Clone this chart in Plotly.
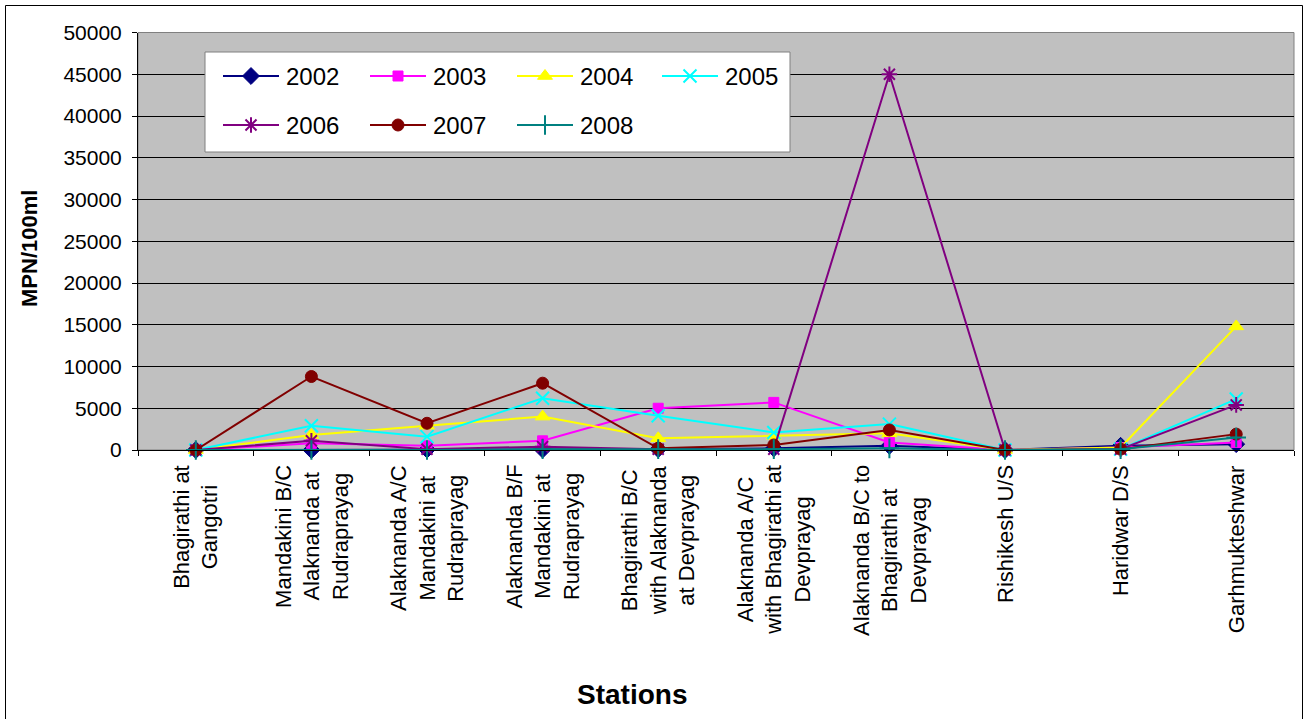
import plotly.graph_objects as go

W, H = 1307, 719
FONT = "Liberation Sans, Arial, sans-serif"

# Sampling stations along the Ganga (upstream to downstream)
stations = [
    "Bhagirathi at Gangotri",
    "Mandakini B/C Alaknanda at Rudraprayag",
    "Alaknanda A/C Mandakini at Rudraprayag",
    "Alaknanda B/F Mandakini at Rudraprayag",
    "Bhagirathi B/C with Alaknanda at Devprayag",
    "Alaknanda A/C with Bhagirathi at Devprayag",
    "Alaknanda B/C to Bhagirathi at Devprayag",
    "Rishikesh U/S",
    "Haridwar D/S",
    "Garhmukteshwar",
]
station_labels = [
    "Bhagirathi at<br>Gangotri",
    "Mandakini B/C<br>Alaknanda at<br>Rudraprayag",
    "Alaknanda A/C<br>Mandakini at<br>Rudraprayag",
    "Alaknanda B/F<br>Mandakini at<br>Rudraprayag",
    "Bhagirathi B/C<br>with Alaknanda<br>at Devprayag",
    "Alaknanda A/C<br>with Bhagirathi at<br>Devprayag",
    "Alaknanda B/C to<br>Bhagirathi at<br>Devprayag",
    "Rishikesh U/S",
    "Haridwar D/S",
    "Garhmukteshwar",
]

# Coliform counts, MPN/100ml
mpn_2002 = [0, 0, 50, 50, 100, 200, 500, 0, 500, 700]
mpn_2003 = [0, 800, 500, 1100, 5000, 5700, 900, 0, 300, 900]
mpn_2004 = [0, 1800, 2900, 4000, 1400, 1700, 2000, 0, 300, 14800]
mpn_2005 = [0, 2900, 1600, 6200, 4100, 2100, 3100, 0, 100, 6100]
mpn_2006 = [0, 1100, 100, 400, 100, 100, 45000, 0, 100, 5400]
mpn_2007 = [0, 8800, 3200, 8000, 200, 600, 2400, 0, 100, 1900]
mpn_2008 = [0, 0, 0, 100, 100, 100, 200, 0, 100, 1500]

years = ["2002", "2003", "2004", "2005", "2006", "2007", "2008"]
y_ticks = [0, 5000, 10000, 15000, 20000, 25000, 30000, 35000, 40000, 45000, 50000]

series = [
    ("2002", mpn_2002, "#000080", "diamond", 13, 1),
    ("2003", mpn_2003, "#FF00FF", "square", 10, 1),
    ("2004", mpn_2004, "#FFFF00", "triangle-up", 13, 1),
    ("2005", mpn_2005, "#00FFFF", "x-thin-open", 13, 2),
    ("2006", mpn_2006, "#800080", "asterisk-open", 13, 2),
    ("2007", mpn_2007, "#800000", "circle", 12, 1),
    ("2008", mpn_2008, "#008080", "cross-thin-open", 14, 2),
]

fig = go.Figure()

for name, vals, color, symbol, size, lw in series:
    fig.add_trace(go.Scatter(
        x=stations, y=vals, name=name, mode="lines+markers",
        line=dict(color=color, width=2),
        marker=dict(symbol=symbol, size=size, color=color,
                    line=dict(color=color, width=lw)),
        cliponaxis=False, showlegend=False,
        xaxis="x", yaxis="y",
    ))

# Legend panel drawn on a pixel-space overlay (x2/y2)
box_x0, box_x1, box_y0, box_y1 = 205, 790, 52, 152
fig.add_trace(go.Scatter(
    x=[box_x0, box_x1, box_x1, box_x0, box_x0],
    y=[box_y0, box_y0, box_y1, box_y1, box_y0],
    mode="lines", fill="toself", fillcolor="white",
    line=dict(color="#808080", width=1),
    hoverinfo="skip", showlegend=False, xaxis="x2", yaxis="y2",
))

col_x = [223, 370, 517, 662]
row_y = [76, 125]
seg_len = 56
annotations = []
for i, (name, vals, color, symbol, size, lw) in enumerate(series):
    cx = col_x[i % 4]
    cy = row_y[i // 4]
    fig.add_trace(go.Scatter(
        x=[cx, cx + seg_len], y=[cy, cy], mode="lines",
        line=dict(color=color, width=2),
        hoverinfo="skip", showlegend=False, xaxis="x2", yaxis="y2",
    ))
    fig.add_trace(go.Scatter(
        x=[cx + seg_len / 2], y=[cy], mode="markers",
        marker=dict(symbol=symbol, size=size, color=color,
                    line=dict(color=color, width=lw)),
        hoverinfo="skip", showlegend=False, xaxis="x2", yaxis="y2",
    ))
    annotations.append(dict(
        x=cx + seg_len + 5, y=cy, xref="x2", yref="y2",
        text=name, showarrow=False, xanchor="left", yanchor="middle",
        font=dict(family=FONT, size=24, color="black"),
    ))

# Station labels under the category axis
for key, lab in zip(stations, station_labels):
    annotations.append(dict(
        x=key, y=1 - 463 / H, xref="x", yref="paper",
        text=lab, showarrow=False, textangle=-90,
        xanchor="center", yanchor="top", align="center",
        font=dict(family=FONT, size=22, color="black"),
    ))

# Axis titles
annotations.append(dict(
    x=29 / W, y=1 - 249 / H, xref="paper", yref="paper",
    text="<b>MPN/100ml</b>", showarrow=False, textangle=-90,
    xanchor="center", yanchor="middle",
    font=dict(family=FONT, size=22, color="black"),
))
annotations.append(dict(
    x=632 / W, y=1 - 694 / H, xref="paper", yref="paper",
    text="<b>Stations</b>", showarrow=False,
    xanchor="center", yanchor="middle",
    font=dict(family=FONT, size=28, color="black"),
))

shapes = [
    # plot area fill + frame
    dict(type="rect", xref="x domain", yref="y domain", x0=0, x1=1, y0=0, y1=1,
         fillcolor="#C0C0C0", line=dict(color="#808080", width=1), layer="below"),
    # outer chart frame (bottom edge runs off the page)
    dict(type="rect", xref="paper", yref="paper",
         x0=5.5 / W, x1=1302.5 / W, y0=1 - 725 / H, y1=1 - 5.5 / H,
         line=dict(color="black", width=1), fillcolor="rgba(0,0,0,0)", layer="above"),
]

fig.update_layout(
    width=W, height=H,
    margin=dict(l=0, r=0, t=0, b=0),
    paper_bgcolor="white",
    plot_bgcolor="rgba(0,0,0,0)",
    showlegend=False,
    font=dict(family=FONT, color="black"),
    xaxis=dict(
        domain=[138 / W, 1294 / W], type="category",
        categoryorder="array", categoryarray=stations,
        range=[-0.5, len(stations) - 0.5],
        showticklabels=False, ticks="outside", tickson="boundaries",
        ticklen=5, tickcolor="black", tickwidth=1,
        showline=True, linecolor="black", linewidth=1,
        showgrid=False, zeroline=False, fixedrange=True, automargin=False,
    ),
    yaxis=dict(
        domain=[1 - 450 / H, 1 - 32.5 / H], range=[0, 50000],
        tickvals=y_ticks, tickformat="d",
        tickfont=dict(family=FONT, size=21, color="black"),
        ticks="outside", ticklen=5, tickcolor="black", tickwidth=1,
        ticklabelstandoff=6,
        showline=True, linecolor="black", linewidth=1,
        showgrid=True, gridcolor="black", gridwidth=1,
        zeroline=False, fixedrange=True, automargin=False,
    ),
    xaxis2=dict(domain=[0, 1], range=[0, W], visible=False, anchor="y2",
                fixedrange=True),
    yaxis2=dict(domain=[0, 1], range=[H, 0], visible=False, anchor="x2",
                fixedrange=True),
    annotations=annotations,
    shapes=shapes,
)

fig.write_html("out.html")
